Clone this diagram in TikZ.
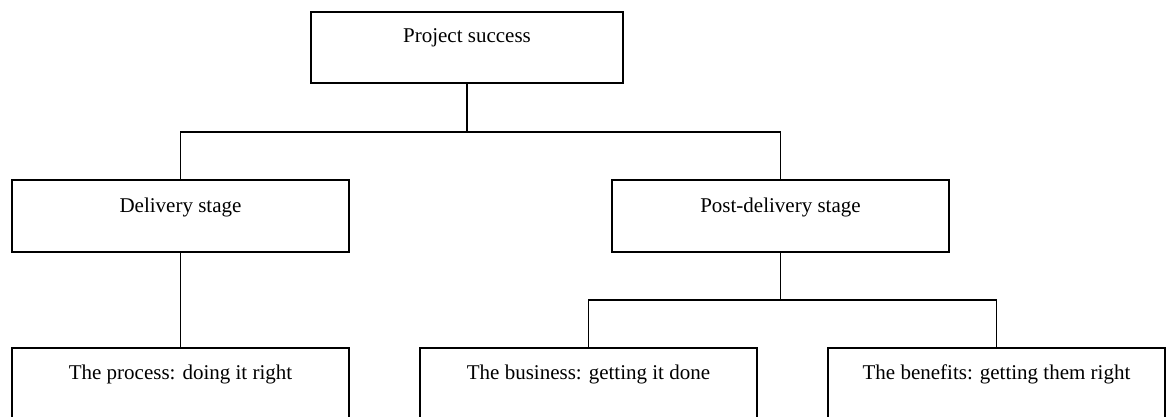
\documentclass[tikz,border=0pt]{standalone}
\usepackage{fontspec}
\setmainfont{Liberation Serif}
\begin{document}
\begin{tikzpicture}[x=1pt,y=-1pt,
  box/.style={draw, line width=1.6pt, rectangle, inner sep=0pt,
    minimum width=337pt, minimum height=72pt},
  lbl/.style={anchor=base, font=\fontsize{21}{25}\selectfont, inner sep=0pt},
  link/.style={line width=1.6pt}]
\useasboundingbox (0,0) rectangle (1171,416);
\clip (0,0) rectangle (1171,416);

% boxes
\node[box, minimum width=312pt, minimum height=71pt] (top) at (467,47.5) {};
\node[box] (deliv) at (180.5,216) {};
\node[box] (post)  at (780.5,216) {};
\node[box, minimum height=84pt] (proc) at (180.5,390) {};
\node[box, minimum height=84pt] (bus)  at (588.5,390) {};
\node[box, minimum height=84pt] (ben)  at (996.5,390) {};

% labels
\node[lbl] (ttop)   at (467,42)    {Project success};
\node[lbl] (tdeliv) at (180.5,212) {Delivery stage};
\node[lbl] (tpost)  at (780.5,212) {Post-delivery stage};
\node[lbl] (tproc)  at (180.5,379) {The process: doing it right};
\node[lbl] (tbus)   at (588.5,379) {The business: getting it done};
\node[lbl] (tben)   at (996.5,379) {The benefits: getting them right};

% connector levels
\coordinate (lev1) at (0,132);
\coordinate (lev2) at (0,300);

% connectors
\draw[link] (top.south) -- (top.south |- lev1);
\draw[link] (deliv.north) -- (deliv.north |- lev1) -- (post.north |- lev1) -- (post.north);
\draw[link] (deliv.south) -- (proc.north);
\draw[link] (post.south) -- (post.south |- lev2);
\draw[link] (bus.north) -- (bus.north |- lev2) -- (ben.north |- lev2) -- (ben.north);
\end{tikzpicture}
\end{document}
